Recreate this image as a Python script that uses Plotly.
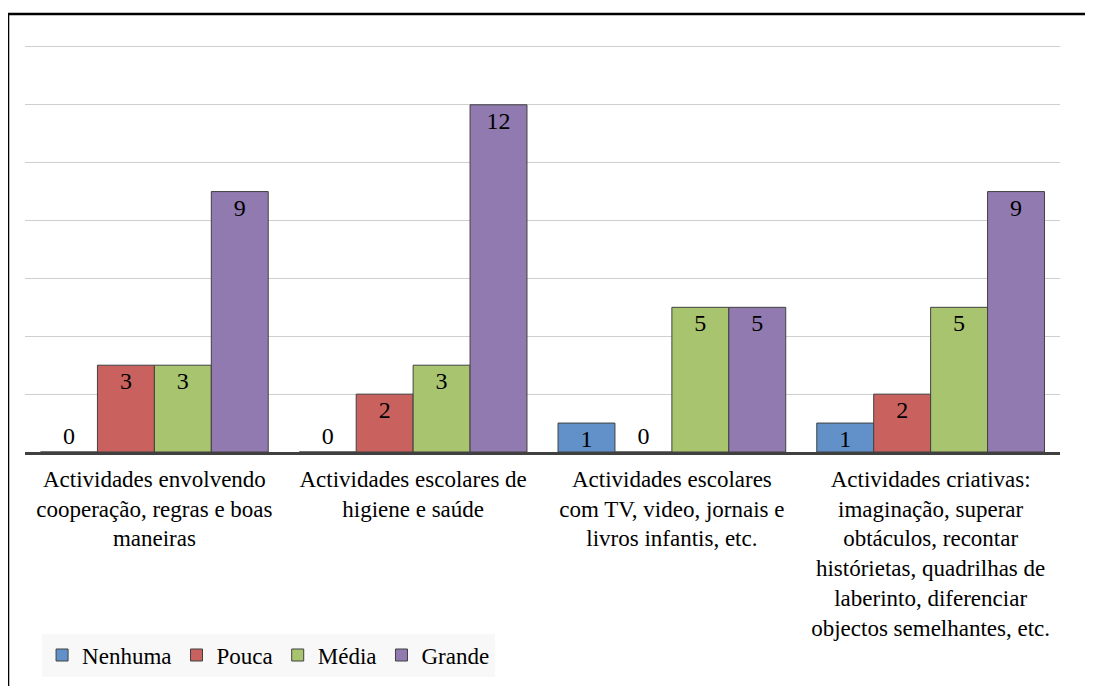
import plotly.graph_objects as go

categorias = [
    "Actividades envolvendo<br>cooperação, regras e boas<br>maneiras",
    "Actividades escolares de<br>higiene e saúde",
    "Actividades escolares<br>com TV, video, jornais e<br>livros infantis, etc.",
    "Actividades criativas:<br>imaginação, superar<br>obtáculos, recontar<br>histórietas, quadrilhas de<br>laberinto, diferenciar<br>objectos semelhantes, etc.",
]
nenhuma = [0, 0, 1, 1]
pouca = [3, 2, 0, 2]
media = [3, 3, 5, 5]
grande = [9, 12, 5, 9]

series = [
    ("Nenhuma", nenhuma, "#6191C8"),
    ("Pouca", pouca, "#C9625F"),
    ("Média", media, "#A9C46E"),
    ("Grande", grande, "#917AB0"),
]

FONT = "Times New Roman"

fig = go.Figure()
for nome, valores, cor in series:
    fig.add_trace(go.Bar(
        name=nome,
        x=categorias,
        y=valores,
        marker=dict(color=cor, line=dict(color="#404040", width=1)),
        text=[str(v) for v in valores],
        textposition=["outside" if v == 0 else "inside" for v in valores],
        insidetextanchor="end",
        textangle=0,
        constraintext="none",
        textfont=dict(family=FONT, size=24, color="black"),
        cliponaxis=False,
    ))

fig.update_layout(
    width=1093,
    height=686,
    barmode="group",
    bargap=0.12,
    bargroupgap=0,
    plot_bgcolor="white",
    paper_bgcolor="white",
    margin=dict(l=17, r=41, t=36, b=242),
    font=dict(family=FONT, size=23, color="black"),
    showlegend=True,
    legend=dict(
        orientation="h",
        x=0.0165,
        y=-0.445,
        xanchor="left",
        yanchor="top",
        bgcolor="#f8f8f8",
        font=dict(family=FONT, size=23, color="black"),
        itemwidth=30,
    ),
    shapes=[
        dict(type="rect", xref="paper", yref="paper",
             x0=-0.0164, x1=1.2, y0=-1.0, y1=1.0735,
             line=dict(color="black", width=2.5), layer="below"),
    ],
)
fig.update_xaxes(
    showline=True, linecolor="#404040", linewidth=3,
    ticks="outside", ticklen=4, tickcolor="rgba(0,0,0,0)",
    tickfont=dict(family=FONT, size=23, color="black"),
)
fig.update_yaxes(
    range=[0, 14.1], dtick=2, showticklabels=False,
    showgrid=True, gridcolor="#cfcfcf", gridwidth=1,
    zeroline=False,
)

fig.write_html("out.html")
